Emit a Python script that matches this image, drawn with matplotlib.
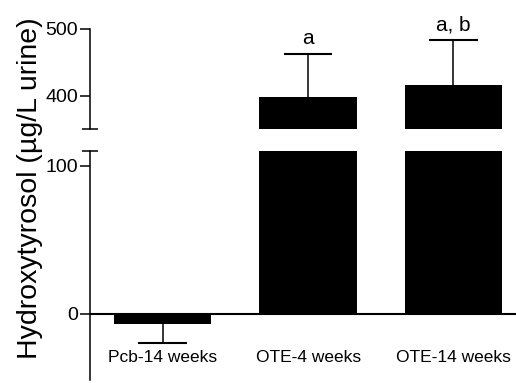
import numpy as np
import matplotlib
matplotlib.use('Agg')
import matplotlib.pyplot as plt

plt.rcParams['font.family'] = ['Liberation Sans', 'DejaVu Sans']

# data
groups = ['Pcb-14 weeks', 'OTE-4 weeks', 'OTE-14 weeks']
means = [-7, 398, 416]
sems = [13, 65, 67]
letters = ['', 'a', 'a, b']

x = np.arange(len(groups))
bar_w = 0.67
cap_w = bar_w / 2

fig = plt.figure(figsize=(5.16, 3.83), dpi=100)
ax_top = fig.add_axes([0.1744, 0.6632, 0.8256, 0.2611])
ax_bot = fig.add_axes([0.1744, 0.0078, 0.8256, 0.5979])

for ax in (ax_top, ax_bot):
    ax.bar(x, means, width=bar_w, color='black', zorder=2)
    ax.set_xlim(-0.5, 2.43)
    for s in ('top', 'right', 'bottom'):
        ax.spines[s].set_visible(False)
    ax.spines['left'].set_linewidth(1.1)
    ax.tick_params(axis='y', length=7, width=1.1, pad=1.5, labelsize=14)
    ax.set_xticks([])

ax_top.set_ylim(350, 500)
ax_top.set_yticks([400, 500])
ax_bot.set_ylim(-45, 110)
ax_bot.set_yticks([0, 100])

# one-sided error bars (away from zero)
for i, (m, e) in enumerate(zip(means, sems)):
    ax = ax_top if m > 0 else ax_bot
    end = m + e if m > 0 else m - e
    ax.vlines(x[i], m, end, color='black', lw=1.1, zorder=1)
    ax.hlines(end, x[i] - cap_w / 2, x[i] + cap_w / 2, color='black', lw=1.5, zorder=1)

# zero line
ax_bot.axhline(0, color='black', lw=1.5, zorder=3)

# break marks at spine ends
ax_top.plot([0], [0], marker='_', markersize=11, mew=1.1, color='black',
            transform=ax_top.transAxes, clip_on=False)
ax_bot.plot([0], [1], marker='_', markersize=11, mew=1.1, color='black',
            transform=ax_bot.transAxes, clip_on=False)

# significance letters
for i, lab in enumerate(letters):
    if lab:
        ax_top.text(x[i], means[i] + sems[i] + 8, lab, ha='center', va='bottom', fontsize=15)

# group labels under the zero line
for i, g in enumerate(groups):
    ax_bot.text(x[i], -29.6, g, ha='center', va='center', fontsize=12.5)

fig.text(0.058, 1 - 188 / 383, 'Hydroxytyrosol (µg/L urine)', rotation=90,
         ha='center', va='center', fontsize=20.5)

fig.savefig('out.png', dpi=100)
